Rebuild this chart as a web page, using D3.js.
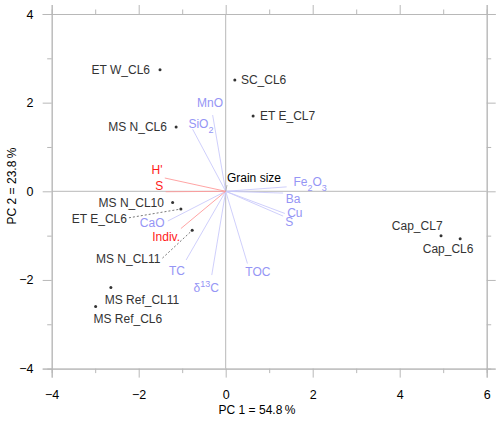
<!DOCTYPE html>
<html>
<head>
<meta charset="utf-8">
<script src="https://cdn.jsdelivr.net/npm/d3@7"></script>
<style>
  body { margin: 0; background: #fff; }
  text { font-family: "Liberation Sans", Arial, sans-serif; }
</style>
</head>
<body>
<div id="biplot"></div>
<script>
// sample scores (PC1, PC2)
const sampleNames = ["ET W_CL6", "SC_CL6", "ET E_CL7", "MS N_CL6", "MS N_CL10", "ET E_CL6",
  "MS N_CL11", "MS Ref_CL11", "MS Ref_CL6", "Cap_CL7", "Cap_CL6"];
const samplePC1 = [-1.51, 0.21, 0.63, -1.14, -1.22, -1.03, -0.77, -2.64, -2.99, 4.95, 5.39];
const samplePC2 = [2.74, 2.51, 1.70, 1.45, -0.25, -0.40, -0.88, -2.17, -2.60, -1.00, -1.07];
// where each sample label sits (data units) and how it is anchored
const sampleLabPC1 = [-1.74, 0.35, 0.79, -1.35, -1.42, -2.27, -1.50, -2.78, -3.04, 3.82, 4.53];
const sampleLabPC2 = [2.74, 2.51, 1.70, 1.45, -0.25, -0.62, -1.53, -2.45, -2.88, -0.78, -1.30];
const sampleAnchor = ["end", "start", "start", "end", "end", "end", "end", "start", "start", "start", "start"];
const sampleLeader = [false, false, false, false, false, true, true, false, false, false, false];

// variable loadings (arrow tips) and label positions
const varNames = ["MnO", "SiO2", "Fe2O3", "Ba", "Cu", "S", "TOC", "δ13C", "TC", "CaO", "Indiv.", "H'", "S", "Grain size"];
const varGroup = ["chem", "chem", "chem", "chem", "chem", "chem", "chem", "chem", "chem", "chem", "div", "div", "div", "grain"];
const varPC1 = [-0.30, -0.76, 1.40, 1.32, 1.36, 1.32, 0.50, -0.32, -0.91, -1.33, -1.03, -1.40, -1.38, 0.03];
const varPC2 = [1.72, 1.40, 0.10, -0.04, -0.50, -0.56, -1.63, -1.89, -1.55, -0.67, -0.84, 0.30, -0.01, 0.14];
const varLabPC1 = [-0.36, -0.57, 1.94, 1.55, 1.59, 1.46, 0.74, -0.45, -1.12, -1.69, -1.37, -1.58, -1.53, 0.65];
const varLabPC2 = [1.99, 1.52, 0.21, -0.17, -0.49, -0.69, -1.82, -2.18, -1.80, -0.72, -1.03, 0.48, 0.12, 0.30];

const majorTicksX = [-4, -2, 0, 2, 4, 6];
const minorTicksX = [-3, -1, 1, 3, 5];
const majorTicksY = [-4, -2, 0, 2, 4];
const minorTicksY = [-3, -1, 1, 3];

const xTitle = "PC 1 = 54.8\u2009%";
const yTitle = "PC 2 = 23.8\u2009%";

const width = 500, height = 423;
const margin = {top: 14, right: 13.3, bottom: 54.4, left: 51.7};

const svg = d3.select("#biplot")
  .append("svg")
  .attr("width", width)
  .attr("height", height);

const x = d3.scaleLinear().domain([-4, 6]).range([margin.left, width - margin.right]);
const y = d3.scaleLinear().domain([-4, 4]).range([height - margin.bottom, margin.top]);

const axisCol = "#b8b8b8";
const colours = {chem: "#9595f5", div: "#ff1a1a", grain: "#000"};
const lineColours = {chem: "#c9c9fb", div: "#ff9a9a", grain: "#aaa"};

// axes: major + minor ticks on all four sides
function drawAxis(axisFn, scale, major, minor, transform, labels) {
  const g = svg.append("g").attr("transform", transform);
  g.call(axisFn(scale).tickValues(major).tickSize(9).tickFormat(labels ? d3.format("d") : ""));
  const gm = svg.append("g").attr("transform", transform);
  gm.call(axisFn(scale).tickValues(minor).tickSize(4.5).tickFormat(""));
  [g, gm].forEach(a => {
    a.selectAll("path").attr("stroke", axisCol);
    a.selectAll("line").attr("stroke", axisCol);
    a.selectAll("text").attr("font-size", 12.5).attr("fill", "#000")
      .attr("font-family", "Liberation Sans, Arial, sans-serif");
  });
  return g;
}

drawAxis(d3.axisBottom, x, majorTicksX, minorTicksX, `translate(0,${y(-4)})`, true)
  .selectAll("text").attr("dy", "1.45em");
drawAxis(d3.axisLeft, y, majorTicksY, minorTicksY, `translate(${x(-4)},0)`, true)
  .selectAll("text").attr("dx", "-0.5em");
drawAxis(d3.axisTop, x, majorTicksX, minorTicksX, `translate(0,${y(4)})`, false);
drawAxis(d3.axisRight, y, majorTicksY, minorTicksY, `translate(${x(6)},0)`, false);

// zero lines
svg.append("line")
  .attr("x1", x(0)).attr("x2", x(0)).attr("y1", y(4)).attr("y2", y(-4))
  .attr("stroke", axisCol);
svg.append("line")
  .attr("x1", x(-4)).attr("x2", x(6)).attr("y1", y(0)).attr("y2", y(0))
  .attr("stroke", axisCol);

// axis titles
svg.append("text")
  .attr("x", 257).attr("y", 414)
  .attr("text-anchor", "middle").attr("font-size", 12)
  .text(xTitle);
svg.append("text")
  .attr("transform", "translate(16,186) rotate(-90)")
  .attr("text-anchor", "middle").attr("font-size", 12)
  .text(yTitle);

const vars = varNames.map((name, i) => ({
  name, group: varGroup[i], px: varPC1[i], py: varPC2[i], lx: varLabPC1[i], ly: varLabPC2[i]
}));

// loading vectors
svg.append("g")
  .selectAll("line")
  .data(vars)
  .join("line")
  .attr("x1", x(0)).attr("y1", y(0))
  .attr("x2", d => x(d.px)).attr("y2", d => y(d.py))
  .attr("stroke", d => lineColours[d.group])
  .attr("stroke-width", 0.9);

// variable labels, with sub/superscripts
const vlab = svg.append("g")
  .selectAll("text")
  .data(vars)
  .join("text")
  .attr("x", d => x(d.lx)).attr("y", d => y(d.ly))
  .attr("dy", "0.35em")
  .attr("text-anchor", "middle")
  .attr("font-size", 12)
  .attr("fill", d => colours[d.group]);

vlab.each(function (d) {
  const t = d3.select(this);
  const parts = d.name.match(/[A-Za-z'.δ ]+|\d+/g);
  if (d.name === "δ13C") {
    t.append("tspan").text("δ");
    t.append("tspan").attr("baseline-shift", "super").attr("font-size", 9).text("13");
    t.append("tspan").text("C");
  } else if (/\d/.test(d.name)) {
    parts.forEach(p => {
      if (/\d/.test(p)) t.append("tspan").attr("baseline-shift", "sub").attr("font-size", 9).text(p);
      else t.append("tspan").text(p);
    });
  } else {
    t.text(d.name);
  }
});

const samples = sampleNames.map((name, i) => ({
  name, px: samplePC1[i], py: samplePC2[i], lx: sampleLabPC1[i], ly: sampleLabPC2[i],
  anchor: sampleAnchor[i], leader: sampleLeader[i]
}));

// dashed leader lines for displaced labels
svg.append("g")
  .selectAll("line")
  .data(samples.filter(d => d.leader))
  .join("line")
  .attr("x1", d => x(d.lx) + 2).attr("y1", d => y(d.ly) - 1)
  .attr("x2", d => x(d.px)).attr("y2", d => y(d.py))
  .attr("stroke", "#555")
  .attr("stroke-width", 0.8)
  .attr("stroke-dasharray", "2,2");

svg.append("g")
  .selectAll("circle")
  .data(samples)
  .join("circle")
  .attr("cx", d => x(d.px)).attr("cy", d => y(d.py))
  .attr("r", 1.5)
  .attr("fill", "#333");

svg.append("g")
  .selectAll("text")
  .data(samples)
  .join("text")
  .attr("x", d => x(d.lx)).attr("y", d => y(d.ly))
  .attr("dy", "0.35em")
  .attr("text-anchor", d => d.anchor)
  .attr("font-size", 12)
  .attr("fill", "#333")
  .text(d => d.name);
</script>
</body>
</html>
